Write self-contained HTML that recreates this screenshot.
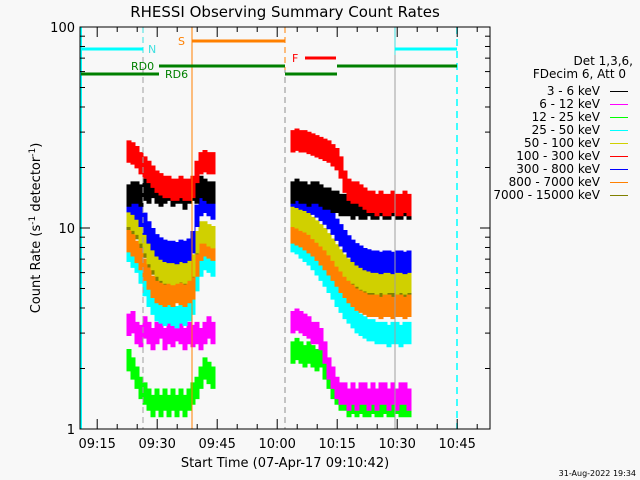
<!DOCTYPE html>
<html><head><meta charset="utf-8"><style>
body{margin:0;background:#f8f8f8;}
svg{display:block;font-family:"DejaVu Sans","Liberation Sans",sans-serif;}
</style></head><body>
<svg id="c" width="640" height="480" viewBox="0 0 640 480">
<rect width="640" height="480" fill="#f8f8f8"/>
<text x="285" y="17" font-size="15" text-anchor="middle">RHESSI Observing Summary Count Rates</text>
<g id="plot"></g>
<text x="0" y="0" font-size="13" text-anchor="middle" transform="translate(40,228) rotate(-90)">Count Rate (s<tspan baseline-shift="super" font-size="9">-1</tspan> detector<tspan baseline-shift="super" font-size="9">-1</tspan>)</text>
<text x="285" y="467" font-size="13" text-anchor="middle">Start Time (07-Apr-17 09:10:42)</text>
<text x="636" y="476" font-size="8" text-anchor="end">31-Aug-2022 19:34</text>
<g id="legend" font-size="12" text-anchor="end">
<text x="633" y="65">Det 1,3,6,</text>
<text x="626" y="78">FDecim 6, Att 0</text>
</g>
</svg>
<script>
const minutes1=[12,13,14,15,16,17,18,19,20,21,22,23,24,25,26,27,28,29,30,31,32,33];
const minutes2=[53,54,55,56,57,58,59,60,61,62,63,64,65,66,67,68,69,70,71,72,73,74,75,76,77,78,79,80,81,82];
const labels=["3 - 6 keV","6 - 12 keV","12 - 25 keV","25 - 50 keV","50 - 100 keV","100 - 300 keV","300 - 800 keV","800 - 7000 keV","7000 - 15000 keV"];
const colors=["#000000","#ff00ff","#00ff00","#00ffff","#d0d000","#ff0000","#0000ff","#ff8000","#808000"];
const black1=[14.5,15,15,14.5,15.5,15,16,15,14.5,15,15.5,14.5,15,15,14,15,15.5,15,16,15.5,15,15];
const black2=[15,15.5,15,15,14.5,15,15,14.5,14,14,13.5,13.5,13,13,13,12.5,13,12.5,12.5,13,12.5,12.5,13,12.5,12.5,13,12.5,12.5,13,12.5];
const magenta1=[3.3,3.4,3.0,2.9,3.2,3.0,2.8,3.0,3.2,2.8,3.0,2.9,3.1,3.0,2.8,3.0,2.9,3.0,2.8,3.0,3.2,3.0];
const magenta2=[3.4,3.5,3.4,3.3,3.2,3.0,3.0,2.8,2.4,2.0,1.8,1.6,1.5,1.5,1.4,1.5,1.4,1.5,1.5,1.4,1.5,1.4,1.5,1.5,1.4,1.5,1.4,1.5,1.5,1.4];
const green1=[2.2,2.0,1.8,1.6,1.5,1.4,1.3,1.4,1.3,1.4,1.3,1.4,1.3,1.4,1.3,1.4,1.5,1.6,1.8,2.0,1.9,1.8];
const green2=[2.4,2.5,2.4,2.3,2.4,2.3,2.2,2.3,2.0,1.8,1.6,1.5,1.4,1.4,1.3,1.35,1.3,1.35,1.3,1.3,1.35,1.3,1.3,1.35,1.3,1.3,1.35,1.3,1.3,1.3];
const cyan1=[7.7,7.2,6.8,6.0,5.2,4.6,4.2,3.9,3.8,3.7,3.8,3.7,3.6,3.8,3.7,3.9,4.2,5.5,6.5,7.0,6.8,6.5];
const cyan2=[8.6,8.4,8.0,7.7,7.4,7.0,6.6,6.2,5.8,5.4,5.0,4.6,4.3,4.0,3.8,3.6,3.4,3.3,3.2,3.1,3.1,3.0,3.0,3.0,2.9,3.0,3.0,2.9,3.0,3.0];
const yellow1=[11.5,11,10.5,9.5,8.5,7.5,7,6.5,6.2,6.0,6.0,5.9,6.0,6.1,6.0,6.2,6.5,8.5,9.5,9.5,9.2,9.0];
const yellow2=[11.5,11.3,11,10.8,10.5,10,9.6,9.2,8.8,8.3,7.8,7.3,6.9,6.5,6.2,6.0,5.8,5.6,5.5,5.4,5.4,5.3,5.4,5.3,5.4,5.4,5.3,5.4,5.3,5.4];
const red1=[24,23.5,22.5,21,20,19,18,17,16.5,16,16,15.5,15.5,16,15.5,15.5,16,19,21,21.5,21,21];
const red2=[27,27.5,27,27,26.5,26,25.5,25,24.5,24,23,22,20,17,15.5,15,15,14.5,14,13.5,13.5,13,13.5,13,13,13.5,13,13,13.5,13];
const blue1=[13.6,13.2,12.5,11.5,10.5,9.5,8.8,8.2,7.9,7.7,7.6,7.6,7.5,7.7,7.6,7.8,8.5,11.5,13,13.5,13,12.5];
const blue2=[14.5,14.3,14,13.8,13.5,13.2,12.8,12.3,11.8,11.2,10.5,9.8,9.2,8.6,8.1,7.7,7.4,7.2,7.0,6.9,6.8,6.8,6.7,6.8,6.8,6.7,6.8,6.8,6.7,6.8];
const orange1=[8.6,8.2,7.6,7.0,6.2,5.6,5.1,4.8,4.7,4.6,4.7,4.6,4.8,4.7,4.6,4.8,5.0,6.5,7.8,8.2,8.0,7.8];
const orange2=[9.5,9.3,9.1,8.8,8.5,8.2,7.8,7.4,7.0,6.6,6.2,5.8,5.4,5.1,4.8,4.6,4.4,4.3,4.2,4.1,4.1,4.1,4.0,4.1,4.1,4.0,4.1,4.1,4.0,4.1];
const olive1=yellow1.map(v=>v*0.95);
const olive2=yellow2.map(v=>v*0.95);
const yTicks=[1,10,100];
const xTickLabels=["09:15","09:30","09:45","10:00","10:15","10:30","10:45"];
const xTickMinutes=[4.3,19.3,34.3,49.3,64.3,79.3,94.3];

const X0=80,X1=490,Y0=27,Y1=429;
const BAND=1.13;
const xs=m=>X0+4*m;
const ys=v=>Y1-201*Math.log10(v);
const NS="http://www.w3.org/2000/svg";
const plot=document.getElementById('plot');
function mk(tag,attrs,parent){const e=document.createElementNS(NS,tag);for(const k in attrs)e.setAttribute(k,attrs[k]);(parent||plot).appendChild(e);return e;}

const seriesData=[[olive1,olive2,8],[green1,green2,2],[magenta1,magenta2,1],[cyan1,cyan2,3],[orange1,orange2,7],[yellow1,yellow2,4],[blue1,blue2,6],[black1,black2,0],[red1,red2,5]];
seriesData.forEach(([a,b,ci])=>{
  [[minutes1,a],[minutes2,b]].forEach(([mins,vals])=>{
    let up="",dn="";
    mins.forEach((m,i)=>{const x0=xs(m-0.25),x1=xs(m+0.75),yu=ys(vals[i]*BAND),yd=ys(vals[i]/BAND);
      up+=(i?"L":"M")+x0+","+yu+"L"+x1+","+yu;
      dn="L"+x1+","+yd+"L"+x0+","+yd+dn;});
    const p=mk('path',{d:up+dn+"Z",fill:colors[ci],stroke:colors[ci],"stroke-width":1});
    
    
  });
});

function line(x1,y1,x2,y2,c,w,dash,name){const l=mk('line',{x1,y1,x2,y2,stroke:c,"stroke-width":w});if(dash)l.setAttribute('stroke-dasharray',dash);}
line(143,27,143,429,"#a0a0a0",1,"6,4",'night-end-marker');
line(143,27,143,55,"#40e0e0",1,"6,4",'night-end-marker-top');
line(192,27,192,429,"#ff8000",1,null,'saa-start-marker');
line(285,27,285,429,"#909090",1,"6,4",'saa-end-marker');
line(285,27,285,70,"#ff8000",1,"6,4",'saa-end-marker-top');
line(395,27,395,429,"#a0a0a0",1,null,'night-start-marker');
line(395,27,395,55,"#40e0e0",1,null,'night-start-marker-top');
line(457,27,457,429,"#00ffff",1.5,"7,5",'night-end-marker-2');
line(81,27,81,429,"#00ffff",2,null,'night-left-edge');
line(81,49,143,49,"#00ffff",3,null,'night-bar-1');
line(395,49,457,49,"#00ffff",3,null,'night-bar-2');
line(192,41,285,41,"#ff8000",3,null,'saa-bar');
line(305,58,336,58,"#ff0000",3,null,'flare-bar');
line(159,66,285,66,"#008000",3,null,'rd0-bar-1');
line(337,66,457,66,"#008000",3,null,'rd0-bar-2');
line(81,74,159,74,"#008000",3,null,'rd6-bar-1');
line(285,74,337,74,"#008000",3,null,'rd6-bar-2');
function txt(x,y,s,c,name,sz,anchor){const t=mk('text',{x,y,fill:c,"font-size":sz||11});if(anchor)t.setAttribute('text-anchor',anchor);t.textContent=s;}
txt(148,53,"N","#40e0e0",'night-label');
txt(178,45,"S","#ff8000",'saa-label');
txt(292,62,"F","#ff0000",'flare-label');
txt(131,70,"RD0","#008000",'rd0-label');
txt(165,78,"RD6","#008000",'rd6-label');

const ax=mk('rect',{x:X0,y:Y0,width:X1-X0,height:Y1-Y0,fill:"none",stroke:"#000","stroke-width":1});


[1,10].forEach(dec=>{for(let k=1;k<=10;k++){const v=dec*k;if(v>100)continue;const y=ys(v);const L=(k===1||k===10)?10:5;
  line(X0,y,X0+L,y,"#000",1,null,'y-tick');line(X1,y,X1-L,y,"#000",1,null,'y-tick-right');}});
yTicks.forEach(v=>{txt(X0-5,ys(v)+5,String(v),"#000",'y-tick-label',13,"end");});
for(let m=4.3-15;m<=103;m+=5){const x=xs(m);if(x<X0||x>X1)continue;const major=Math.abs(((m-4.3)/15)-Math.round((m-4.3)/15))<0.01;const L=major?10:5;
  line(x,Y1,x,Y1-L,"#000",1,null,'x-tick');line(x,Y0,x,Y0+L,"#000",1,null,'x-tick-top');}
xTickLabels.forEach((s,i)=>txt(xs(xTickMinutes[i]),448,s,"#000",'x-tick-label',13,"middle"));

const lg=document.getElementById('legend');
labels.forEach((s,i)=>{const y=91+13*i;
  const t=mk('text',{x:600,y:y+4,"font-size":12,"text-anchor":"end"},lg);t.textContent=s;
  
  
  const r=mk('rect',{x:610,y:y,width:18,height:1,fill:colors[i],"shape-rendering":"crispEdges"},lg);
  
  
});
</script>
</body></html>
